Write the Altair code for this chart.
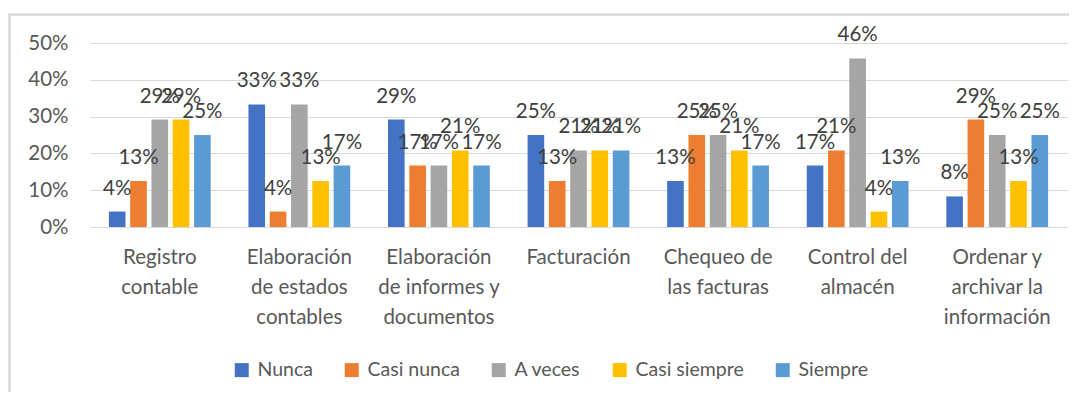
import json
import altair as alt
import pandas as pd

categories = [
    "Registro contable",
    "Elaboración de estados contables",
    "Elaboración de informes y documentos",
    "Facturación",
    "Chequeo de las facturas",
    "Control del almacén",
    "Ordenar y archivar la información",
]
label_lines = [
    ["Registro", "contable"],
    ["Elaboración", "de estados", "contables"],
    ["Elaboración", "de informes y", "documentos"],
    ["Facturación"],
    ["Chequeo de", "las facturas"],
    ["Control del", "almacén"],
    ["Ordenar y", "archivar la", "información"],
]
series = ["Nunca", "Casi nunca", "A veces", "Casi siempre", "Siempre"]
colors = ["#4472C4", "#ED7D31", "#A5A5A5", "#FFC000", "#5B9BD5"]

nunca = [0.042, 0.333, 0.292, 0.25, 0.125, 0.167, 0.083]
casi_nunca = [0.125, 0.042, 0.167, 0.125, 0.25, 0.208, 0.292]
a_veces = [0.292, 0.333, 0.167, 0.208, 0.25, 0.458, 0.25]
casi_siempre = [0.292, 0.125, 0.208, 0.208, 0.208, 0.042, 0.125]
siempre = [0.25, 0.167, 0.167, 0.208, 0.167, 0.125, 0.25]

rows = []
for s, vals in zip(series, [nunca, casi_nunca, a_veces, casi_siempre, siempre]):
    for c, v in zip(categories, vals):
        rows.append({"cat": c, "serie": s, "val": v})
df = pd.DataFrame(rows)

label_expr = "''"
for c, lines in reversed(list(zip(categories, label_lines))):
    label_expr = f"datum.value == {json.dumps(c)} ? {json.dumps(lines)} : ({label_expr})"

FONT = "Lato"
FS = 20.5
W, H = 977, 184

base = alt.Chart(df).encode(
    x=alt.X(
        "cat:N",
        sort=categories,
        title=None,
        scale=alt.Scale(paddingInner=0.24, paddingOuter=0.12),
        axis=alt.Axis(
            labelAngle=0,
            labelExpr=label_expr,
            labelFont=FONT,
            labelFontSize=FS,
            labelColor="#595959",
            labelLineHeight=30,
            labelPadding=20,
            domain=False,
            ticks=False,
            grid=False,
        ),
    ),
    xOffset=alt.XOffset(
        "serie:N", sort=series, scale=alt.Scale(paddingInner=0.22, paddingOuter=0.1)
    ),
    y=alt.Y(
        "val:Q",
        title=None,
        scale=alt.Scale(domain=[0, 0.5]),
        axis=alt.Axis(
            values=[0, 0.1, 0.2, 0.3, 0.4, 0.5],
            format=".0%",
            labelFont=FONT,
            labelFontSize=FS,
            labelColor="#595959",
            labelPadding=22,
            domain=False,
            ticks=False,
            grid=True,
            gridColor="#d9d9d9",
            gridWidth=1,
        ),
    ),
)

bars = base.mark_bar().encode(
    color=alt.Color(
        "serie:N",
        sort=series,
        scale=alt.Scale(domain=series, range=colors),
        legend=alt.Legend(
            title=None,
            orient="none",
            direction="horizontal",
            legendX=142,
            legendY=317,
            symbolType="square",
            symbolSize=196,
            symbolStrokeWidth=0,
            labelFont=FONT,
            labelFontSize=19.5,
            labelColor="#595959",
            labelOffset=6,
            columnPadding=29,
        ),
    )
)

labels = base.mark_text(
    dy=-23, baseline="middle", font=FONT, fontSize=FS, color="#404040"
).encode(text=alt.Text("val:Q", format=".0%"))

one = pd.DataFrame({"a": [0]})
left_border = alt.Chart(one).mark_rule(color="#d9d9d9", strokeWidth=2.5).encode(
    x=alt.value(-80.5), y=alt.value(-29.75), y2=alt.value(500)
)
top_border = alt.Chart(one).mark_rule(color="#d9d9d9", strokeWidth=2.5).encode(
    x=alt.value(-81.75), x2=alt.value(1200), y=alt.value(-28.5)
)

chart = (
    alt.layer(left_border, top_border, bars, labels)
    .properties(
        width=W,
        height=H,
        autosize=alt.AutoSizeParams(type="none"),
        padding={"left": 82, "top": 35, "right": 2, "bottom": 165},
    )
    .configure_view(strokeWidth=0)
)

chart.save("out.html", embed_options={"renderer": "svg", "actions": False})
